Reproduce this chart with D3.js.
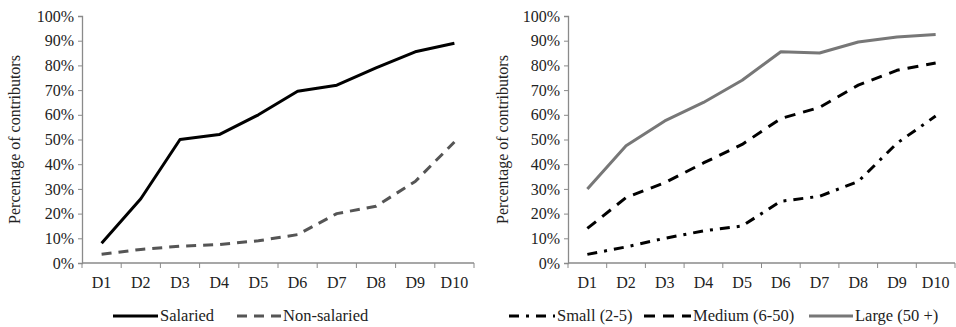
<!DOCTYPE html>
<html>
<head>
<meta charset="utf-8">
<script src="https://cdn.jsdelivr.net/npm/d3@7"></script>
<style>
  body { margin: 0; background: #fff; }
  svg text { font-family: "Liberation Serif", "Times New Roman", Times, serif; }
</style>
</head>
<body>
<svg id="chart" width="956" height="327"></svg>
<script>
// Deciles
const deciles = ["D1", "D2", "D3", "D4", "D5", "D6", "D7", "D8", "D9", "D10"];
const yTicks = [0, 0.1, 0.2, 0.3, 0.4, 0.5, 0.6, 0.7, 0.8, 0.9, 1.0];

// Left panel
const salaried    = [0.08, 0.26, 0.50, 0.52, 0.60, 0.695, 0.72, 0.79, 0.855, 0.89];
const nonSalaried = [0.035, 0.055, 0.068, 0.075, 0.09, 0.115, 0.20, 0.23, 0.33, 0.49];

// Right panel (firm size)
const small  = [0.035, 0.065, 0.10, 0.13, 0.15, 0.25, 0.27, 0.33, 0.485, 0.595];
const medium = [0.14, 0.265, 0.325, 0.405, 0.48, 0.585, 0.63, 0.72, 0.78, 0.81];
const large  = [0.30, 0.475, 0.575, 0.65, 0.74, 0.855, 0.85, 0.895, 0.915, 0.925];

const svg = d3.select("#chart");
const textColor = "#222";
const axisColor = "#8a8a8a";
const serif = "'Liberation Serif', 'Times New Roman', Times, serif";
const fs = 16;

function drawPanel(opts) {
    const g = svg.append("g");
    const x = d3.scaleBand().domain(deciles).range([opts.x0, opts.x1]);
    const y = d3.scaleLinear().domain([0, 1]).range([263, 16]);

    // y axis
    const yAxis = g.append("g")
        .attr("transform", `translate(${opts.x0},0)`)
        .call(d3.axisLeft(y).tickValues(yTicks).tickSize(4).tickPadding(4)
            .tickFormat(d3.format(".0%")));
    yAxis.attr("font-family", serif).attr("font-size", fs);
    yAxis.select(".domain").attr("stroke", axisColor).attr("stroke-width", 1.3);
    yAxis.selectAll(".tick line").attr("stroke", axisColor);
    yAxis.selectAll("text").attr("fill", textColor);

    // x axis: ticks at band edges
    const xAxis = g.append("g").attr("transform", "translate(0,263)");
    xAxis.append("line")
        .attr("x1", opts.x0).attr("x2", opts.x1)
        .attr("stroke", axisColor).attr("stroke-width", 1.3);
    const edges = deciles.map(d => x(d)).concat([opts.x1]);
    xAxis.selectAll(".edge").data(edges).join("line")
        .attr("class", "edge")
        .attr("x1", d => d).attr("x2", d => d)
        .attr("y1", 0).attr("y2", 5)
        .attr("stroke", axisColor);
    xAxis.selectAll("text").data(deciles).join("text")
        .attr("x", d => x(d) + x.bandwidth() / 2)
        .attr("y", 25)
        .attr("text-anchor", "middle")
        .attr("fill", textColor)
        .attr("font-family", serif)
        .attr("font-size", fs)
        .text(d => d);

    // y title
    g.append("text")
        .attr("transform", `translate(${opts.titleX},${(16 + 263) / 2}) rotate(-90)`)
        .attr("text-anchor", "middle")
        .attr("fill", textColor)
        .attr("font-family", serif)
        .attr("font-size", fs)
        .text("Percentage of contributors");

    const line = d3.line()
        .x((d, i) => x(deciles[i]) + x.bandwidth() / 2)
        .y(d => y(d));

    opts.series.forEach(s => {
        g.append("path")
            .datum(s.values)
            .attr("d", line)
            .attr("fill", "none")
            .attr("stroke", s.color)
            .attr("stroke-width", 3)
            .attr("stroke-linejoin", "round")
            .attr("stroke-dasharray", s.dash || null);
    });

    // legend
    const lg = g.append("g").attr("transform", "translate(0,321)");
    opts.series.forEach(s => {
        lg.append("line")
            .attr("x1", s.legend[0]).attr("x2", s.legend[1])
            .attr("y1", -5).attr("y2", -5)
            .attr("stroke", s.color)
            .attr("stroke-width", 3)
            .attr("stroke-dasharray", s.dash || null);
        lg.append("text")
            .attr("x", s.legend[1] + 2)
            .attr("y", 0)
            .attr("fill", textColor)
            .attr("font-family", serif)
            .attr("font-size", 16.5)
            .text(s.name);
    });
}

drawPanel({
    x0: 82, x1: 474, titleX: 20,
    series: [
        { name: "Salaried", values: salaried, color: "#000", legend: [113, 158] },
        { name: "Non-salaried", values: nonSalaried, color: "#555", dash: "10 7", legend: [237, 281] }
    ]
});

drawPanel({
    x0: 568, x1: 955, titleX: 508,
    series: [
        { name: "Small (2-5)", values: small, color: "#000", dash: "10 7 3 7", legend: [509, 555] },
        { name: "Medium (6-50)", values: medium, color: "#000", dash: "11 8", legend: [644, 691] },
        { name: "Large (50 +)", values: large, color: "#777", legend: [809, 853] }
    ]
});
</script>
</body>
</html>
